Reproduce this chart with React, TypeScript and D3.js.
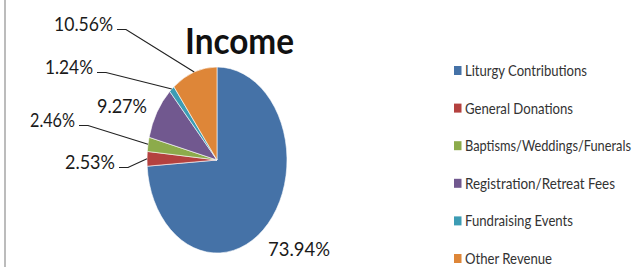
import React from 'react';
import * as d3 from 'd3';

const categories = [
  'Liturgy Contributions',
  'General Donations',
  'Baptisms/Weddings/Funerals',
  'Registration/Retreat Fees',
  'Fundraising Events',
  'Other Revenue',
];
const percents = [73.94, 2.53, 2.46, 9.27, 1.24, 10.56];
const colors = ['#4572A7', '#B4413F', '#8CAB4B', '#71588F', '#3C9CB4', '#DE8638'];

const width = 641;
const height = 267;
const cx = 217;
const cy = 160;
const rx = 70;
const ry = 93;

// label placement, the way it was dragged around in the original
// [text x, baseline y, text width, anchor, has leader]
const labelLayout: [number, number, number, string, boolean][] = [
  [268, 256, 62, 'start', false],
  [115, 169, 50, 'end', true],
  [75, 127, 45, 'end', true],
  [147, 113, 50, 'end', false],
  [93, 74, 48, 'end', true],
  [113, 31, 59, 'end', true],
];

const legendX = 454;
const legendTop = 70.5;
const legendStep = 37.6;
const legendWidths = [122, 108, 166, 150, 108, 87];

const font = 'Lato, "Open Sans", sans-serif';

const App = () => {
  const pie = d3.pie<number>().sort(null).value(d => d);
  const arcs = pie(percents);
  const arc = d3.arc<d3.PieArcDatum<number>>().innerRadius(0).outerRadius(ry);

  // point on the stretched pie edge at the middle of a slice
  const edgePoint = (a: d3.PieArcDatum<number>) => {
    const mid = (a.startAngle + a.endAngle) / 2;
    return [cx + rx * Math.sin(mid), cy - ry * Math.cos(mid)];
  };

  return (
    <svg width={width} height={height} style={{ position: 'absolute', left: 0, top: 0, background: '#fff' }}>
      <line x1={5} x2={5} y1={0} y2={height} stroke="#a6a6a6" strokeWidth={1.5} />

      <text x={185} y={53.5} fontFamily={font} fontWeight="bold" fontSize={37} fill="#111"
        textLength={109} lengthAdjust="spacingAndGlyphs">Income</text>

      <g transform={`translate(${cx},${cy}) scale(${rx / ry},1)`}>
        {arcs.map((a, i) => (
          <path key={i} d={arc(a) || ''} fill={colors[i]} stroke="#fff" strokeWidth={0.6}
            vectorEffect="non-scaling-stroke" />
        ))}
      </g>

      {arcs.map((a, i) => {
        const [tx, ty, tw, anchor, leader] = labelLayout[i];
        const [ex, ey] = edgePoint(a);
        const lx = tx + 4;
        const ly = ty - 1.5;
        return (
          <g key={i}>
            {leader && (
              <polyline points={`${lx},${ly} ${lx + 9},${ly} ${ex},${ey}`} fill="none" stroke="#222" strokeWidth={1.2} />
            )}
            <text x={tx} y={ty} textAnchor={anchor} fontFamily={font} fontSize={20} fill="#1a1a1a"
              textLength={tw} lengthAdjust="spacingAndGlyphs">
              {percents[i].toFixed(2) + '%'}
            </text>
          </g>
        );
      })}

      {categories.map((c, i) => {
        const y = legendTop + i * legendStep;
        return (
          <g key={c}>
            <rect x={legendX} y={y - 4.5} width={7.5} height={9} fill={colors[i]} />
            <text x={legendX + 11} y={y + 5.5} fontFamily={font} fontSize={15} fill="#333"
              textLength={legendWidths[i]} lengthAdjust="spacingAndGlyphs">{c}</text>
          </g>
        );
      })}
    </svg>
  );
};

export default App;
